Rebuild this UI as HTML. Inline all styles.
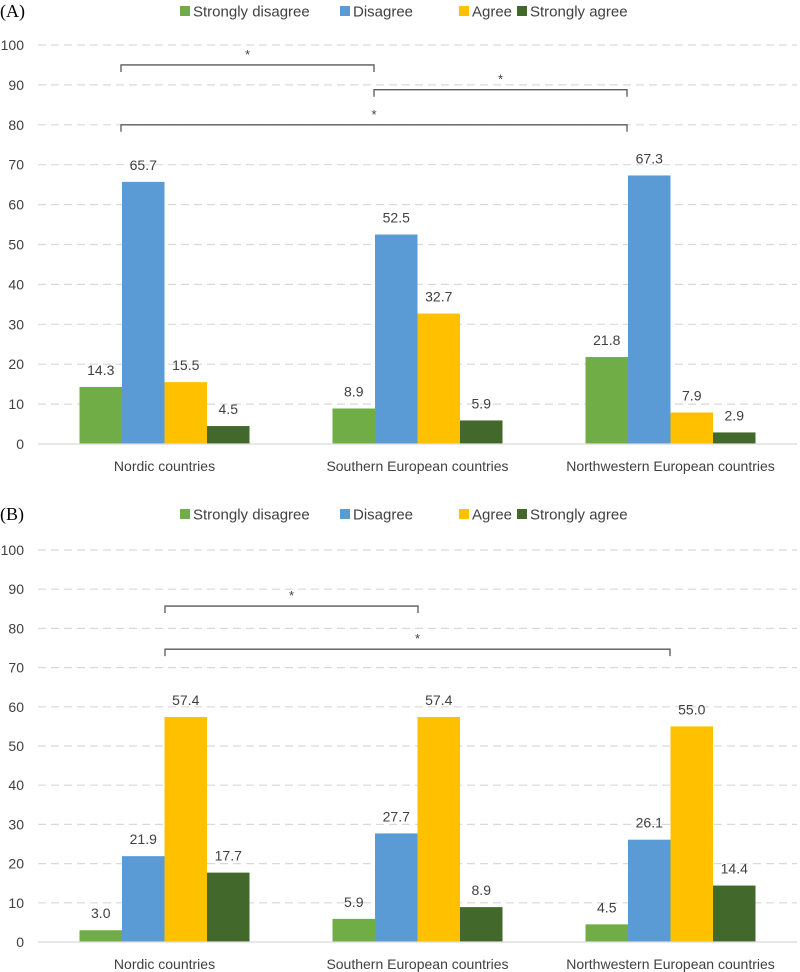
<!DOCTYPE html>
<html><head><meta charset="utf-8"><style>
body{margin:0;background:#fff;}
svg{display:block;font-family:"Liberation Sans",sans-serif;}
</style></head><body>
<svg id="c" width="800" height="972" xmlns="http://www.w3.org/2000/svg"></svg>
<script>
const categories = ["Nordic countries","Southern European countries","Northwestern European countries"];
const seriesNames = ["Strongly disagree","Disagree","Agree","Strongly agree"];
const colors = ["#70ad47","#5b9bd5","#ffc000","#43682b"];
const yTicks = [0,10,20,30,40,50,60,70,80,90,100];
const panelAStronglyDisagree = [14.3, 8.9, 21.8];
const panelADisagree = [65.7, 52.5, 67.3];
const panelAAgree = [15.5, 32.7, 7.9];
const panelAStronglyAgree = [4.5, 5.9, 2.9];
const panelBStronglyDisagree = [3.0, 5.9, 4.5];
const panelBDisagree = [21.9, 27.7, 26.1];
const panelBAgree = [57.4, 57.4, 55.0];
const panelBStronglyAgree = [17.7, 8.9, 14.4];

const svg = document.getElementById('c');
const NS = "http://www.w3.org/2000/svg";
function mk(tag, attrs, parent){
  const e = document.createElementNS(NS, tag);
  for (const k in attrs) e.setAttribute(k, attrs[k]);
  (parent||svg).appendChild(e);
  return e;
}
const plotL = 38, plotR = 797, catW = (plotR-plotL)/3, barW = 42.5;

function drawPanel(name, title, legendY, zeroY, topY, series, brackets){
  const g = mk('g', {});
  
  
  const yS = v => zeroY - (v/100)*(zeroY-topY);
  const xBar = (ci, si) => plotL + catW*ci + (catW - 4*barW)/2 + si*barW;
  const t = mk('text', {x:0, y:legendY+6, 'font-family':'"Liberation Serif",serif', 'font-size':18, fill:'#000'}, g);
  t.textContent = title;
  
  
  // legend
  const lx = [180, 340, 459, 517];
  seriesNames.forEach((s, i) => {
    const r = mk('rect', {x:lx[i], y:legendY-5, width:10, height:10, fill:colors[i]}, g);
    
    
    const tx = mk('text', {x:lx[i]+13, y:legendY+5.5, 'font-size':15, fill:'#404040'}, g);
    tx.textContent = s;
    
    
  });
  // grid + ticks
  yTicks.forEach(v => {
    const y = yS(v);
    if (v > 0) {
      const l = mk('line', {x1:plotL, x2:plotR, y1:y, y2:y, stroke:'#d9d9d9', 'stroke-width':1.2, 'stroke-dasharray':'8,5'}, g);
      
      
    }
    const tx = mk('text', {x:24, y:y+5, 'font-size':14, fill:'#404040', 'text-anchor':'end'}, g);
    tx.textContent = v;
    
    
  });
  // bars
  series.forEach((vals, si) => {
    vals.forEach((v, ci) => {
      const x = xBar(ci, si), y = yS(v);
      const r = mk('rect', {x:x, y:y, width:barW, height:zeroY-y, fill:colors[si]}, g);
      
      
      const tx = mk('text', {x:x+barW/2, y:y-12, 'font-size':14, fill:'#404040', 'text-anchor':'middle'}, g);
      tx.textContent = v.toFixed(1);
      
      
    });
  });
  const ax = mk('line', {x1:plotL, x2:plotR, y1:zeroY, y2:zeroY, stroke:'#d9d9d9', 'stroke-width':1.2}, g);
  
  
  categories.forEach((c, ci) => {
    const tx = mk('text', {x:plotL+catW*(ci+0.5), y:zeroY+27, 'font-size':14, fill:'#404040', 'text-anchor':'middle'}, g);
    tx.textContent = c;
    
    
  });
  brackets.forEach(b => {
    const y = yS(b[2]);
    const p = mk('path', {d:`M${b[0]} ${y+7} V${y} H${b[1]} V${y+7}`, stroke:'#595959', 'stroke-width':1.3, fill:'none'}, g);
    
    
    const s = mk('text', {x:(b[0]+b[1])/2, y:y-6, 'font-size':13, fill:'#404040', 'text-anchor':'middle'}, g);
    s.textContent = '*';
    
    
  });
}
drawPanel('panel-a', '(A)', 11, 444, 45,
  [panelAStronglyDisagree, panelADisagree, panelAAgree, panelAStronglyAgree],
  [[121,374,95],[374,627,88.8],[121,627,80]]);
drawPanel('panel-b', '(B)', 514, 942, 550,
  [panelBStronglyDisagree, panelBDisagree, panelBAgree, panelBStronglyAgree],
  [[165,418,85.7],[165,670,74.7]]);
</script>
</body></html>
